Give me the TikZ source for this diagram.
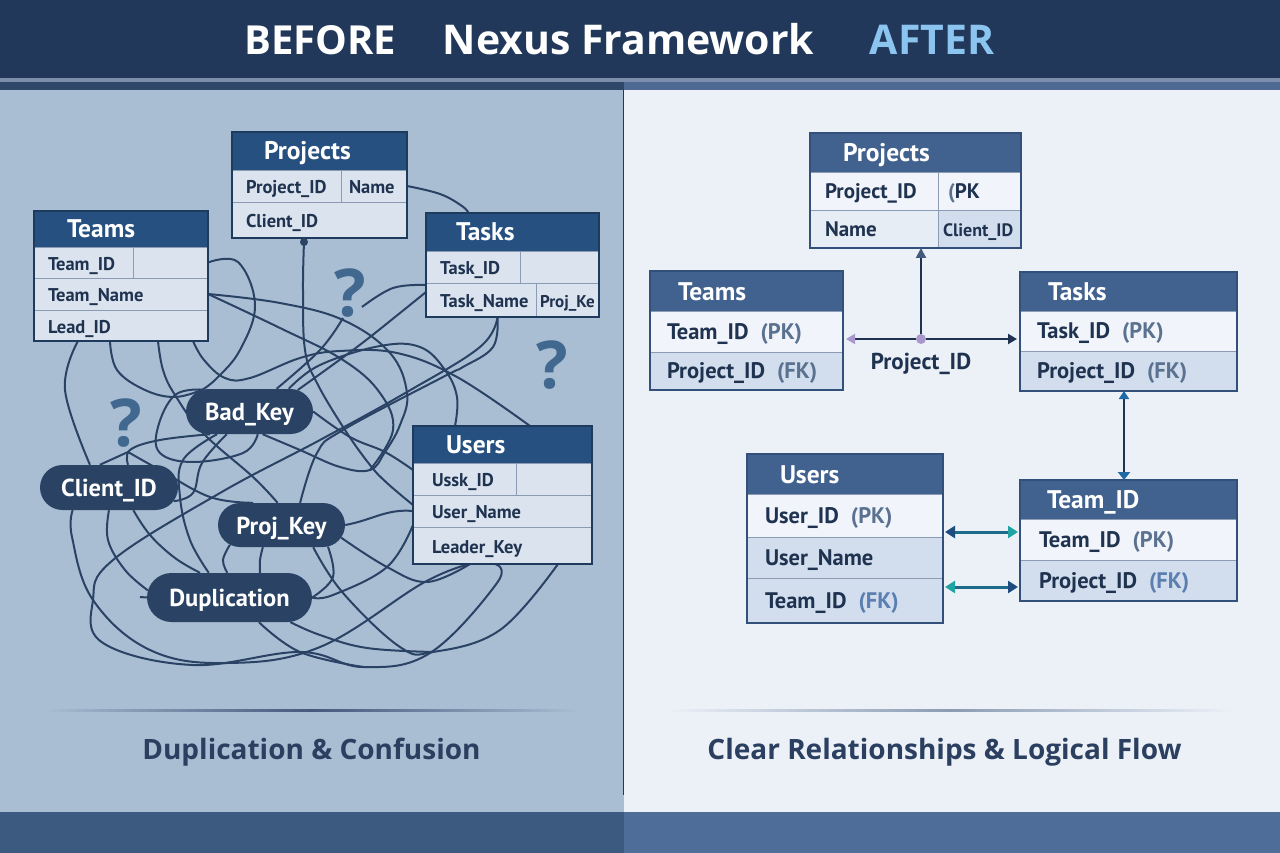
\documentclass[tikz,border=0pt]{standalone}
\usepackage{fontspec}
\setmainfont{Open Sans}
\newfontfamily\headfont{PT Sans}
\usetikzlibrary{positioning, fit, arrows.meta, shapes.misc, backgrounds}

\definecolor{barnavy}{HTML}{22385A}
\definecolor{barline}{HTML}{7C90AE}
\definecolor{stripL}{HTML}{2F4769}
\definecolor{stripR}{HTML}{4F6A92}
\definecolor{panelL}{HTML}{A9BDD3}
\definecolor{panelR}{HTML}{ECF1F8}
\definecolor{footL}{HTML}{3C5A80}
\definecolor{footR}{HTML}{4F6D99}
\definecolor{skyblue}{HTML}{8CC4F0}
\definecolor{inkdark}{HTML}{1F3350}
\definecolor{capink}{HTML}{2B3F60}
\definecolor{headL}{HTML}{25507F}
\definecolor{headR}{HTML}{41628F}
\definecolor{frameL}{HTML}{1E3A5C}
\definecolor{frameR}{HTML}{33507A}
\definecolor{cellL}{HTML}{DBE3EE}
\definecolor{rowlight}{HTML}{F1F4FA}
\definecolor{rowmid}{HTML}{E7EDF5}
\definecolor{rowtint}{HTML}{D2DEED}
\definecolor{cellline}{HTML}{8A9BB3}
\definecolor{pillblue}{HTML}{2A4365}
\definecolor{tangleink}{HTML}{2A4365}
\definecolor{qmark}{HTML}{41688F}
\definecolor{pktag}{HTML}{5A7290}
\definecolor{fktag}{HTML}{5A7FB0}
\definecolor{lilac}{HTML}{A998CC}
\definecolor{tipslate}{HTML}{44597C}
\definecolor{tipblue}{HTML}{1F6AA5}
\definecolor{tipnavy}{HTML}{1D4C7E}
\definecolor{tipteal}{HTML}{1FA3A3}
\definecolor{linkteal}{HTML}{1E6A8A}

\newcommand{\pk}{\hspace{12pt}\textcolor{pktag}{(PK)}}
\newcommand{\fk}{\hspace{12pt}\textcolor{pktag}{(FK)}}
\newcommand{\fkb}{\hspace{12pt}\textcolor{fktag}{(FK)}}

\tikzset{
	cell/.style n args={3}{anchor=north west,rectangle,draw=cellline,line width=0.9pt,outer sep=0pt,
		minimum height=#2,text width=#1-2*#3,inner xsep=#3,inner ysep=0pt,align=left,
		text height=15pt,text depth=0pt,text=inkdark},
	rowL/.style={fill=cellL,font=\headfont\bfseries\fontsize{18.5}{20}\selectfont},
	rowR/.style={fill=rowlight,font=\headfont\bfseries\fontsize{22.5}{24}\selectfont},
	rowRs/.style={fill=rowlight,font=\headfont\bfseries\fontsize{21}{24}\selectfont},
	headcell/.style={fill=#1,draw=#1,text=white,text height=18pt,font=\headfont\bfseries\fontsize{25.5}{28}\selectfont},
	tblframe/.style={rectangle,draw=#1,line width=1.6pt,inner sep=0pt,outer sep=0pt},
	pill/.style={rounded rectangle,fill=pillblue,text=white,inner sep=0pt,text height=18pt,text depth=0pt,
		font=\headfont\bfseries\fontsize{24.5}{28}\selectfont},
	askmark/.style={text=qmark,inner sep=0pt,font=\bfseries\fontsize{66}{70}\selectfont},
	tangle/.style={draw=tangleink,line width=2pt,smooth,tension=0.65},
	arrowline/.style={draw=#1,line width=2pt},
	titletxt/.style={inner sep=0pt,text height=30pt,text depth=0pt,font=\bfseries\fontsize{#1}{44}\selectfont},
	captiontxt/.style={inner sep=0pt,text=capink,font=\bfseries\fontsize{28}{32}\selectfont},
}

\begin{document}
\begin{tikzpicture}[x=1pt,y=-1pt]
	\useasboundingbox (0,0) rectangle (1280,853);

	% header line
	\node[titletxt=41,text=white] (nexus) at (628.5,40) {Nexus Framework};
	\node[titletxt=40,text=white,left=46pt of nexus] (before) {BEFORE};
	\node[titletxt=41,text=skyblue,right=55pt of nexus] (after) {AFTER};

	% before: tables
	\node[cell={175}{38}{32},headcell=headL] (projH) at (232,132) {Projects};
	\node[cell={109}{32}{14},rowL] (projR1) at (projH.south west) {Project\_ID};
	\node[cell={66}{32}{8},rowL] (projR1b) at (projR1.north east) {Name};
	\node[cell={175}{36}{14},rowL] (projR2) at (projR1.south west) {Client\_ID};
	\node[tblframe=frameL,fit=(projH)(projR2)] (projbox) {};

	\node[cell={174}{36}{33},headcell=headL] (teamsH) at (34,211) {Teams};
	\node[cell={99}{31}{14},rowL] (teamsR1) at (teamsH.south west) {Team\_ID};
	\node[cell={75}{31}{5},rowL] (teamsR1b) at (teamsR1.north east) {};
	\node[cell={174}{32}{14},rowL] (teamsR2) at (teamsR1.south west) {Team\_Name};
	\node[cell={174}{31}{14},rowL] (teamsR3) at (teamsR2.south west) {Lead\_ID};
	\node[tblframe=frameL,fit=(teamsH)(teamsR3)] (teamsbox) {};

	\node[cell={173}{38}{30},headcell=headL] (tasksH) at (426,213) {Tasks};
	\node[cell={94}{32}{14},rowL] (tasksR1) at (tasksH.south west) {Task\_ID};
	\node[cell={79}{32}{5},rowL] (tasksR1b) at (tasksR1.north east) {};
	\node[cell={110}{34}{14},rowL] (tasksR2) at (tasksR1.south west) {Task\_Name};
	\node[cell={63}{34}{4},rowL] (tasksR2b) at (tasksR2.north east) {\fontsize{17}{20}\selectfont Proj\_Ke};
	\node[tblframe=frameL,fit=(tasksH)(tasksR2b)] (tasksbox) {};

	\node[cell={179}{37}{33},headcell=headL] (usersH) at (413,426) {Users};
	\node[cell={103}{32}{19},rowL] (usersR1) at (usersH.south west) {Ussk\_ID};
	\node[cell={76}{32}{5},rowL] (usersR1b) at (usersR1.north east) {};
	\node[cell={179}{32}{19},rowL] (usersR2) at (usersR1.south west) {User\_Name};
	\node[cell={179}{37}{19},rowL] (usersR3) at (usersR2.south west) {Leader\_Key};
	\node[tblframe=frameL,fit=(usersH)(usersR3)] (usersbox) {};

	% before: pills and marks
	\node[pill,minimum width=127pt,minimum height=45pt] (badkey) at (249.5,411.5) {Bad\_Key};
	\node[pill,minimum width=138pt,minimum height=45pt] (clientpill) at (109,487.5) {Client\_ID};
	\node[pill,minimum width=127pt,minimum height=44pt] (projpill) at (281.5,525) {Proj\_Key};
	\node[pill,minimum width=165pt,minimum height=49pt] (duppill) at (229.5,597.5) {Duplication};
	\node[askmark] (askA) at (350,293) {?};
	\node[askmark] (askB) at (552,365) {?};
	\node[askmark] (askC) at (126,423) {?};
	\node[circle,fill=tangleink,inner sep=0pt,minimum size=8pt] (projdot) at ([xshift=-15.5pt,yshift=-4pt]projbox.south) {};
	\coordinate (footA) at (362,307);
	\coordinate (footB) at (343,318);
	\coordinate (footC) at (128,452);
	\coordinate (dupstub) at (140,597);

	% after: tables
	\node[cell={211}{39}{33},headcell=headR] (rprojH) at (810,133) {Projects};
	\node[cell={128}{38}{15},rowRs] (rprojR1) at (rprojH.south west) {Project\_ID};
	\node[cell={83}{38}{10},rowRs] (rprojR1b) at (rprojR1.north east) {\textcolor{pktag}{(}PK};
	\node[cell={128}{38}{15},rowRs,fill=rowmid] (rprojR2) at (rprojR1.south west) {Name};
	\node[cell={83}{38}{5},rowRs,fill=rowtint] (rprojR2b) at (rprojR2.north east) {\fontsize{18}{20}\selectfont Client\_ID};
	\node[tblframe=frameR,fit=(rprojH)(rprojR2b)] (rprojbox) {};

	\node[cell={193}{40}{28},headcell=headR] (rteamsH) at (650,271) {Teams};
	\node[cell={193}{41}{17},rowR] (rteamsR1) at (rteamsH.south west) {Team\_ID\pk};
	\node[cell={193}{38}{17},rowR,fill=rowtint] (rteamsR2) at (rteamsR1.south west) {Project\_ID\fk};
	\node[tblframe=frameR,fit=(rteamsH)(rteamsR2)] (rteamsbox) {};

	\node[cell={217}{39}{28},headcell=headR] (rtasksH) at (1020,272) {Tasks};
	\node[cell={217}{40}{17},rowR] (rtasksR1) at (rtasksH.south west) {Task\_ID\pk};
	\node[cell={217}{40}{17},rowR,fill=rowtint] (rtasksR2) at (rtasksR1.south west) {Project\_ID\fk};
	\node[tblframe=frameR,fit=(rtasksH)(rtasksR2)] (rtasksbox) {};

	\node[cell={196}{40}{33},headcell=headR] (rusersH) at (747,454) {Users};
	\node[cell={196}{43}{18},rowR] (rusersR1) at (rusersH.south west) {User\_ID\pk};
	\node[cell={196}{41}{18},rowR,fill=rowtint] (rusersR2) at (rusersR1.south west) {User\_Name};
	\node[cell={196}{45}{18},rowR,fill=rowtint] (rusersR3) at (rusersR2.south west) {Team\_ID\fkb};
	\node[tblframe=frameR,fit=(rusersH)(rusersR3)] (rusersbox) {};

	\node[cell={217}{39}{27},headcell=headR] (rteamidH) at (1020,480) {Team\_ID};
	\node[cell={217}{41}{19},rowR] (rteamidR1) at (rteamidH.south west) {Team\_ID\pk};
	\node[cell={217}{41}{19},rowR,fill=rowtint] (rteamidR2) at (rteamidR1.south west) {Project\_ID\fkb};
	\node[tblframe=frameR,fit=(rteamidH)(rteamidR2)] (rteamidbox) {};

	% after: arrows
	\node[circle,fill=lilac,inner sep=0pt,minimum size=10pt] (flowdot) at (921,339) {};
	\node[inner sep=0pt,text=inkdark,font=\headfont\bfseries\fontsize{23}{26}\selectfont,below=9pt of flowdot] (flowlabel) {Project\_ID};
	\draw[arrowline=inkdark,-{Triangle[color=tipslate,length=10pt,width=10pt]}] (flowdot) -- (flowdot |- rprojbox.south);
	\draw[arrowline=inkdark,-{Triangle[color=lilac,length=9pt,width=10pt]}] (flowdot) -- ([xshift=3pt]flowdot -| rteamsbox.east);
	\draw[arrowline=inkdark,-{Triangle[color=inkdark,length=9pt,width=10pt]}] (flowdot) -- ([xshift=-3pt]flowdot -| rtasksbox.west);
	\draw[arrowline=inkdark,{Triangle[color=tipblue,length=8pt,width=10pt]}-{Triangle[color=tipblue,length=8pt,width=12pt]}]
		([xshift=-4.5pt]rtasksbox.south) -- ([xshift=-4.5pt]rteamidbox.north);
	\draw[arrowline=linkteal,line width=3pt,{Triangle[color=tipnavy,length=10pt,width=12pt]}-{Triangle[color=tipteal,length=10pt,width=12pt]}]
		([xshift=2pt,yshift=7.5pt]rteamidR1.west -| rusersbox.east) -- ([xshift=-2pt,yshift=7.5pt]rteamidR1.west);
	\draw[arrowline=linkteal,line width=3pt,{Triangle[color=tipteal,length=10pt,width=12pt]}-{Triangle[color=tipnavy,length=10pt,width=12pt]}]
		([xshift=2pt,yshift=-6.5pt]rteamidR2.west -| rusersbox.east) -- ([xshift=-2pt,yshift=-6.5pt]rteamidR2.west);

	% captions
	\node[captiontxt] (capL) at (311.5,752) {Duplication \& Confusion};
	\node[captiontxt] (capR) at (944.5,752) {Clear Relationships \& Logical Flow};

	\begin{scope}[on background layer]
		% panels and bars
		\fill[panelL] (0,90) rectangle (624,812);
		\fill[panelR] (624,90) rectangle (1280,812);
		\fill[barnavy] (0,0) rectangle (1280,78);
		\fill[barline] (0,78) rectangle (1280,82);
		\fill[stripL] (0,82) rectangle (624,90);
		\fill[stripR] (624,82) rectangle (1280,90);
		\fill[footL] (0,812) rectangle (624,853);
		\fill[footR] (624,812) rectangle (1280,853);
		\draw[line width=1pt,frameL] (623.5,90) -- (623.5,795);
		\shade[left color=panelL,right color=panelL,middle color=tipslate] (45,709.5) rectangle (578,711);
		\shade[left color=panelR,right color=panelR,middle color=cellline] (668,709.5) rectangle (1232,711);

		% the tangle
		\draw[tangle] plot coordinates {(teamsR1b.east) (238,262) (255,305) (240,350) (217,378) (badkey.155)};
		\draw[tangle] plot coordinates {(badkey.155) (175,395) (158,427) (160,453) (193,462) (243,453) (badkey.290)};
		\draw[tangle] plot coordinates {([xshift=-43pt]teamsbox.south) (65,390) (clientpill.130)};
		\draw[tangle] plot coordinates {([xshift=-11pt]teamsbox.south) (117,370) (145,390) (175,397) (badkey.155)};
		\draw[tangle] plot coordinates {([xshift=37pt]teamsbox.south) (163,370) (175,395) (203,433) (253,477) (projpill.100)};
		\draw[tangle] plot coordinates {([xshift=72pt]teamsbox.south) (204,360) (225,378) (250,378) (300,358) (340,351) (397,353) (457,377) ([xshift=27.5pt]usersbox.north)};
		\draw[tangle] plot coordinates {(teamsR2.east) (280,303) (343,320) (390,353) (407,393) (400,425) (385,452) (370,470) (340,467) (300,450) (badkey.300)};
		\draw[tangle] plot coordinates {(teamsR2.east) (280,328) (343,360) (380,393) (393,430) (370,470)};
		\draw[tangle] plot coordinates {(projdot) (303,290) (305,350) (317,383) (345,430) (370,465) (387,483) ([yshift=6pt]usersR2.west)};
		\draw[tangle] plot coordinates {(projR1b.east) (440,194) (462,206) ([xshift=-44pt]tasksH.north)};
		\draw[tangle] plot coordinates {([yshift=15pt]tasksR2.west) (393,288) (footA)};
		\draw[tangle] plot coordinates {([yshift=8pt]tasksR2.west) (400,313) (357,347) (badkey.24)};
		\draw[tangle] plot coordinates {(footB) (320,350) (badkey.40)};
		\draw[tangle] plot coordinates {([xshift=-15pt]tasksbox.south) (480,347) (407,392) (320,440) (220,493) (113,560) (93,600) (103,643) (193,665) (300,652) (363,667) (430,653) (497,583) ([xshift=-7.5pt]usersbox.south)};
		\draw[tangle] plot coordinates {([xshift=-15pt]tasksbox.south) (493,347) (463,367) (443,377) (343,430) (317,453) (projpill.50)};
		\draw[tangle] plot coordinates {(badkey.30) (320,365) (380,346) (420,347) (445,370) (457,397) ([xshift=-47.5pt]usersbox.north)};
		\draw[tangle] plot coordinates {(footC) (160,470) (210,497) (projpill.142)};
		\draw[tangle] plot coordinates {(badkey.210) (160,440) (130,450) (clientpill.50)};
		\draw[tangle] plot coordinates {(footC) (clientpill.112)};
		\draw[tangle] plot coordinates {(badkey.225) (202,463) (193,493) (clientpill.348)};
		\draw[tangle] plot coordinates {(badkey.215) (183,460) (180,497) (190,540) (duppill.130)};
		\draw[tangle] plot coordinates {(clientpill.212) (72,537) (93,600) (150,650) (227,663) (320,647) (423,583) ([xshift=-32.5pt]usersbox.south)};
		\draw[tangle] plot coordinates {(clientpill.270) (108,540) (125,570) (duppill.175)};
		\draw[tangle] (dupstub) -- (duppill.west);
		\draw[tangle] plot coordinates {(clientpill.317) (150,535) (175,558) (duppill.140)};
		\draw[tangle] plot coordinates {(projpill.201) (223,560) (duppill.95)};
		\draw[tangle] plot coordinates {(projpill.230) (260,560) (duppill.39)};
		\draw[tangle] (projpill.east) to[out=10,in=175] (usersR2.west);
		\draw[tangle] plot coordinates {(projpill.348) (387,567) (427,582) ([xshift=-32.5pt]usersbox.south)};
		\draw[tangle] plot coordinates {(projpill.335) (333,577) (duppill.east)};
		\draw[tangle] plot coordinates {(duppill.east) (333,595) (387,567) ([yshift=-14pt]usersR2.west)};
		\draw[tangle] plot coordinates {(projpill.325) (343,593) (400,647) (433,652) (500,630) ([xshift=55.5pt]usersbox.south)};
		\draw[tangle] plot coordinates {(duppill.338) (320,635) (367,648) (433,652)};
		\draw[tangle] plot coordinates {(duppill.320) (300,652) (363,667)};
		\draw[tangle] plot coordinates {(badkey.east) (350,437) (385,452) ([yshift=25pt]usersbox.west)};
	\end{scope}
\end{tikzpicture}
\end{document}
